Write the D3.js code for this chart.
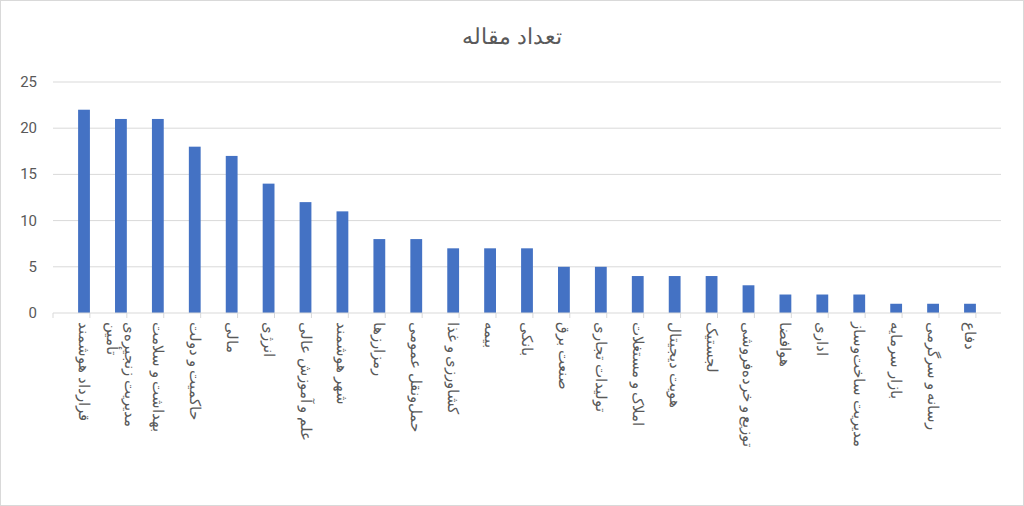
<!DOCTYPE html><html><head><meta charset="utf-8"><script src="https://d3js.org/d3.v7.min.js"></script>
<style>body{margin:0;background:#fff}text{font-family:Roboto,"Noto Sans",sans-serif}</style></head><body><svg id="c" width="1024" height="506"></svg>
<script>
const categories=["قرارداد هوشمند","مدیریت زنجیره‌ی تأمین","بهداشت و سلامت","حاکمیت و دولت","مالی","انرژی","علم و آموزش عالی","شهر هوشمند","رمزارزها","حمل‌ونقل عمومی","کشاورزی و غذا","بیمه","بانکی","صنعت برق","تولیدات تجاری","املاک و مستغلات","هویت دیجیتال","لجستیک","توزیع و خرده‌فروشی","هوافضا","اداری","مدیریت ساخت‌وساز","بازار سرمایه","رسانه و سرگرمی","دفاع"];
const values=[22,21,21,18,17,14,12,11,8,8,7,7,7,5,5,4,4,4,3,2,2,2,1,1,1];
const yTicks=[0,5,10,15,20,25];
const title="تعداد مقاله";
const svg=d3.select("#c");
svg.append("rect").attr("x",0.5).attr("y",0.5).attr("width",1023).attr("height",505).attr("fill","#fff").attr("stroke","#d9d9d9");
svg.append("text").attr("x",512).attr("y",44).attr("text-anchor","middle").attr("font-size",22).attr("fill","#595959").text(title);
const x=d3.scaleBand().domain(categories).range([53,1001]).padding(0.68);
const y=d3.scaleLinear().domain([0,25]).range([313,82]);
svg.append("g").selectAll("line").data(yTicks.slice(1)).join("line").attr("x1",53).attr("x2",1001).attr("y1",d=>y(d)).attr("y2",d=>y(d)).attr("stroke","#d9d9d9");
svg.append("g").selectAll("text").data(yTicks).join("text").attr("x",37).attr("y",d=>y(d)+5).attr("text-anchor","end").attr("font-size",15).attr("fill","#595959").text(d=>d);
svg.append("g").selectAll("rect").data(values).join("rect").attr("x",(d,i)=>x(categories[i])).attr("width",x.bandwidth()).attr("y",d=>y(d)).attr("height",d=>y(0)-y(d)).attr("fill","#4472c4");
svg.append("line").attr("x1",53).attr("x2",1001).attr("y1",313).attr("y2",313).attr("stroke","#d9d9d9");
const step=x.step();
svg.append("g").selectAll("line").data(d3.range(categories.length+1)).join("line").attr("x1",i=>53+i*step).attr("x2",i=>53+i*step).attr("y1",313).attr("y2",318).attr("stroke","#d9d9d9");
categories.forEach((c,i)=>{
  const cx=x(c)+x.bandwidth()/2;
  let lines=[c];
  if(c.length>18){const w=c.split(" ");lines=[w.slice(0,2).join(" "),w.slice(2).join(" ")];}
  const g=svg.append("g").attr("transform",`translate(${cx},322) rotate(90)`);
  lines.forEach((l,j)=>{
    const off=(j-(lines.length-1)/2)*18;
    g.append("text").attr("x",0).attr("y",5+off).attr("direction","rtl").attr("text-anchor","end").attr("font-size",15).attr("fill","#595959").text(l);
  });
});
</script></body></html>
